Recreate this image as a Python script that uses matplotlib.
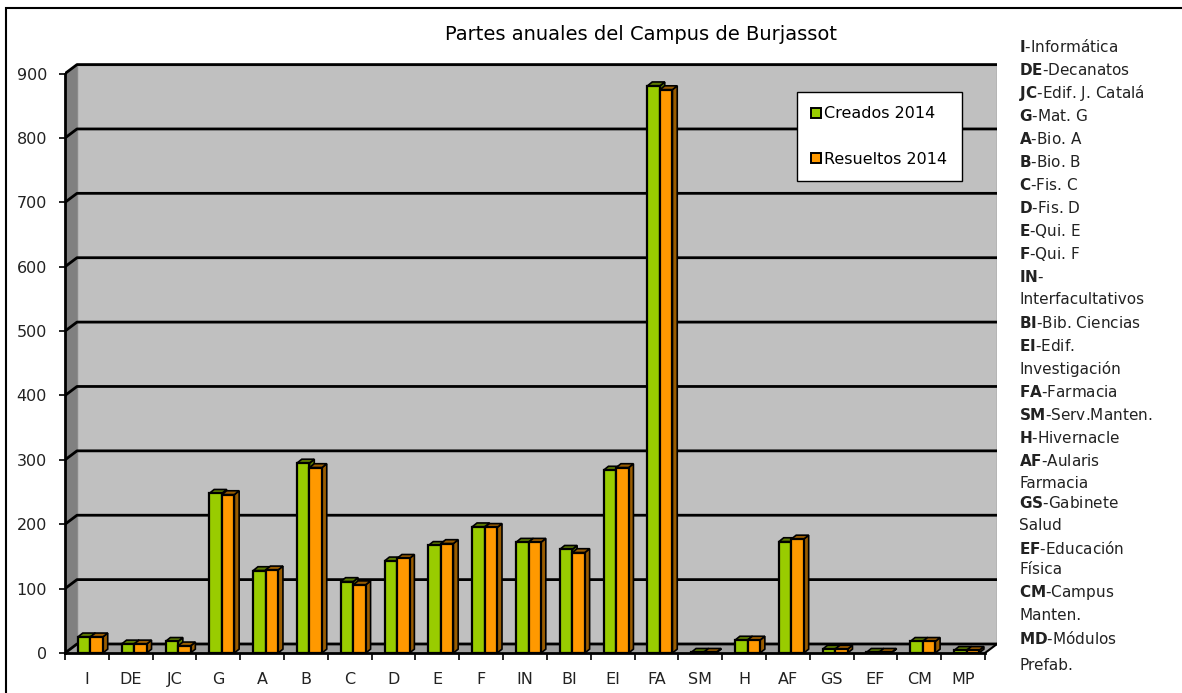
import numpy as np
import matplotlib
matplotlib.use("Agg")
import matplotlib.pyplot as plt
from matplotlib.patches import Polygon, Rectangle, Patch

# data
cats = ['I', 'DE', 'JC', 'G', 'A', 'B', 'C', 'D', 'E', 'F', 'IN', 'BI', 'EI',
        'FA', 'SM', 'H', 'AF', 'GS', 'EF', 'CM', 'MP']
creados = [25, 14, 18, 248, 128, 295, 111, 143, 167, 196, 172, 161, 284,
           881, 1, 20, 173, 6, 1, 18, 4]
resueltos = [25, 14, 11, 246, 129, 288, 106, 147, 170, 195, 172, 156, 288,
             875, 1, 20, 177, 6, 1, 18, 4]
series_names = ['Creados 2014', 'Resueltos 2014']
yticks = list(range(0, 1000, 100))

key_codes = ['I', 'DE', 'JC', 'G', 'A', 'B', 'C', 'D', 'E', 'F', 'IN', '', 'BI',
             'EI', '', 'FA', 'SM', 'H', 'AF', '', 'GS', '', 'EF', '', 'CM', '', 'MD', '']
key_names = ['-Informática', '-Decanatos', '-Edif. J. Catalá', '-Mat. G', '-Bio. A',
             '-Bio. B', '-Fis. C', '-Fis. D', '-Qui. E', '-Qui. F', '-',
             'Interfacultativos', '-Bib. Ciencias', '-Edif.', 'Investigación',
             '-Farmacia', '-Serv.Manten.', '-Hivernacle', '-Aularis', 'Farmacia',
             '-Gabinete', 'Salud', '-Educación', 'Física', '-Campus', 'Manten.',
             '-Módulos', 'Prefab.']

green = '#99cc00'
orange = '#ff9900'
green_dk = '#5c7a00'
orange_dk = '#995c00'

W, H = 1182, 693
fig = plt.figure(figsize=(W / 100, H / 100), dpi=100)
fig.patch.set_facecolor('white')

# outer chart border (cut at right / bottom like the screenshot)
fig.add_artist(Rectangle((6 / W, -0.1), 2, 1 - 8 / H + 0.1, transform=fig.transFigure,
                         fill=False, edgecolor='black', linewidth=1.5))

ax = fig.add_axes([65 / W, 40 / H, 932 / W, 591 / H])
n = len(cats)
DX, DY = 0.274, 14.0        # depth of walls
ddx, ddy = 0.11, 6.0        # depth of bars
x0, x1 = -0.5, n - 0.5
ax.set_xlim(x0, x1 + DX)
ax.set_ylim(0, 918)
ax.set_facecolor('none')

# walls and floor
ax.add_patch(Polygon([(x0 + DX, DY), (x1 + DX, DY), (x1 + DX, 900 + DY), (x0 + DX, 900 + DY)],
                     closed=True, facecolor='#c0c0c0', edgecolor='#8c8c8c', lw=1, zorder=0))
ax.add_patch(Polygon([(x0, 0), (x0 + DX, DY), (x0 + DX, 900 + DY), (x0, 900)],
                     closed=True, facecolor='#808080', edgecolor='none', zorder=0))
ax.add_patch(Polygon([(x0, 0), (x1, 0), (x1 + DX, DY), (x0 + DX, DY)],
                     closed=True, facecolor='#a0a0a0', edgecolor='none', zorder=0))
for v in yticks:
    ax.plot([x0, x0 + DX, x1 + DX], [v, v + DY, v + DY], color='black', lw=2, zorder=1,
            solid_capstyle='butt')
ax.plot([x1, x1 + DX], [0, DY], color='black', lw=1.5, zorder=1)

# 3d-ish bars
bw = 0.285
shift = 0.08
xs = np.arange(n)


def bar3d(x, v, face, dark):
    ax.add_patch(Polygon([(x + bw, 0), (x + bw + ddx, ddy), (x + bw + ddx, v + ddy), (x + bw, v)],
                         closed=True, facecolor=dark, edgecolor='black', lw=1.2, zorder=3))
    ax.add_patch(Polygon([(x, v), (x + bw, v), (x + bw + ddx, v + ddy), (x + ddx, v + ddy)],
                         closed=True, facecolor=dark, edgecolor='black', lw=1.2, zorder=3))
    ax.add_patch(Rectangle((x, 0), bw, v, facecolor=face, edgecolor='black', lw=1.6, zorder=4))


for i in range(n):
    bar3d(xs[i] + shift - bw, creados[i], green, green_dk)
for i in range(n):
    bar3d(xs[i] + shift, resueltos[i], orange, orange_dk)

# axes
for s in ['top', 'right']:
    ax.spines[s].set_visible(False)
ax.spines['left'].set_bounds(0, 900)
ax.spines['bottom'].set_bounds(x0, x1)
ax.spines['left'].set_linewidth(2)
ax.spines['bottom'].set_linewidth(2)
ax.spines['left'].set_zorder(5)
ax.spines['bottom'].set_zorder(5)
ax.set_yticks(yticks)
ax.tick_params(axis='y', length=4, width=1.2, pad=9, labelsize=11.5, labelcolor='#222222')
ax.set_xticks(xs)
ax.set_xticklabels(cats)
ax.set_xticks(np.arange(n + 1) - 0.5, minor=True)
ax.tick_params(axis='x', which='major', length=0, pad=14, labelsize=11.5, labelcolor='#222222')
ax.tick_params(axis='x', which='minor', length=5, width=1.2)

# legend
handles = [Patch(facecolor=green, edgecolor='black', lw=1.4),
           Patch(facecolor=orange, edgecolor='black', lw=1.4)]
leg = ax.legend(handles, series_names, loc='upper left',
                bbox_to_anchor=(797 / W, 1 - 92 / H), bbox_transform=fig.transFigure,
                fontsize=11.5, handlelength=0.6, handleheight=0.6, handletextpad=0.2,
                labelspacing=1.9, borderpad=0.9, borderaxespad=0, fancybox=False,
                framealpha=1)
leg.get_frame().set_edgecolor('black')
leg.get_frame().set_linewidth(1)
leg.set_zorder(10)

fig.text(641 / W, 1 - 35 / H, 'Partes anuales del Campus de Burjassot', ha='center',
         va='center', fontsize=14, color='black')

# key on the right
ys = [47, 70, 93, 116, 139, 162, 185, 208, 231, 254, 277, 300, 323, 346, 369, 392,
      415, 438, 461, 484, 503, 526, 548, 570, 592, 615, 638, 665]
for code, name, y in zip(key_codes, key_names, ys):
    s = (r'$\mathbf{%s}$' % code if code else '') + name
    fig.text(1019 / W, 1 - y / H, s, ha='left', va='center', fontsize=11, color='#222222')

fig.savefig('out.png', dpi=100)
